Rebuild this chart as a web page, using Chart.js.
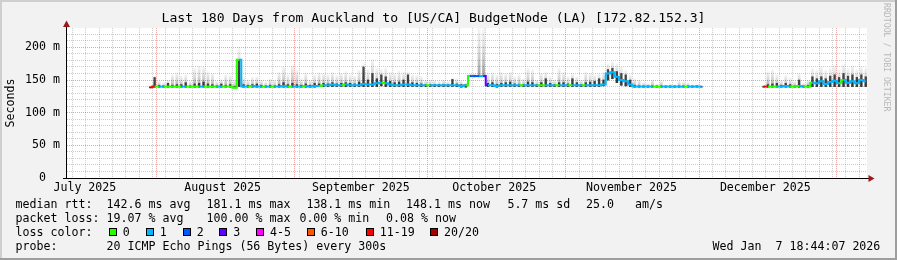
<!DOCTYPE html>
<html>
<head>
<meta charset="utf-8">
<script src="https://cdn.jsdelivr.net/npm/chart.js@4/dist/chart.umd.min.js"></script>
<style>
  html, body { margin: 0; padding: 0; background: #f2f2f2; }
  #wrap { position: relative; width: 897px; height: 260px; overflow: hidden; }
  #rtt { position: absolute; left: 0; top: 0; }
  .t { position: absolute; font: 11.62px "DejaVu Sans Mono", monospace; line-height: 14px; white-space: pre; color: #000; }
  .box { position: absolute; top: 228px; width: 8px; height: 8px; box-sizing: border-box; border: 1px solid #000; }
  #mark { position: absolute; left: 882px; top: 3px; writing-mode: vertical-rl; font: 8.2px "DejaVu Sans Mono", monospace; line-height: 10px; color: #b8b8b8; white-space: pre; }
</style>
</head>
<body>
<div id="wrap">
  <canvas id="rtt" width="897" height="260"></canvas>
  <div id="mark">RRDTOOL / TOBI OETIKER</div>

  <div class="t" style="left:15.5px;top:197px">median rtt:</div>
  <div class="t" style="left:106.6px;top:197px">142.6 ms avg</div>
  <div class="t" style="left:206.6px;top:197px">181.1 ms max</div>
  <div class="t" style="left:306.4px;top:197px">138.1 ms min</div>
  <div class="t" style="left:406px;top:197px">148.1 ms now</div>
  <div class="t" style="left:507.4px;top:197px">5.7 ms sd</div>
  <div class="t" style="left:586px;top:197px">25.0   am/s</div>

  <div class="t" style="left:15.5px;top:211px">packet loss:</div>
  <div class="t" style="left:106.6px;top:211px">19.07 % avg</div>
  <div class="t" style="left:206.6px;top:211px">100.00 % max</div>
  <div class="t" style="left:299.4px;top:211px">0.00 % min</div>
  <div class="t" style="left:386px;top:211px">0.08 % now</div>

  <div class="t" style="left:15.5px;top:225px">loss color:</div>
  <div id="lossLegend"></div>

  <div class="t" style="left:15.5px;top:239px">probe:</div>
  <div class="t" style="left:106.6px;top:239px">20 ICMP Echo Pings (56 Bytes) every 300s</div>
  <div class="t" style="left:712.6px;top:239px">Wed Jan  7 18:44:07 2026</div>
</div>

<script>
// x axis is "days since 1 July 2025"
const dayStart = 10.78;
const dayEnd = 190.78;
const firstDataDay = 29;

const monthStartDays = [31, 62, 92, 123, 153, 184];
const monthLabelDays = [14.8, 45.8, 76.9, 106.9, 137.8, 167.9];
const monthLabels = ["July 2025", "August 2025", "September 2025", "October 2025", "November 2025", "December 2025"];

const yTickValues = [0, 50, 100, 150, 200];
const yTickLabels = ["0  ", "50 m", "100 m", "150 m", "200 m"];

const lossLabels = ["0", "1", "2", "3", "4-5", "6-10", "11-19", "20/20"];
const lossColors = ["#26ff00", "#00b8ff", "#0059ff", "#5e00ff", "#ff00ff", "#ff5500", "#ff0000", "#a00000"];

// one value per day, from firstDataDay to day 190 (ms)
const medianRtt = [
  139,140,140,140,140,140,140,140,140,140,
  140,140,140,140,140,140,140,140,140,138,
  181,140,140,141,140,140,140,140,140,140,
  141,140,140,140,140,141,140,141,141,142,
  142,143,142,142,143,142,142,142,144,143,
  143,145,146,145,143,142,142,143,143,142,
  142,142,142,142,142,142,142,142,142,142,
  141,142,156,156,156,156,142,142,141,142,
  142,142,142,142,142,142,142,142,142,142,
  142,142,142,142,142,142,142,142,142,142,
  142,142,143,160,162,155,150,148,143,140,
  140,140,140,140,140,140,140,140,140,140,
  140,140,140,140,140,null,null,null,null,null,
  null,null,null,null,null,null,null,null,140,140,
  140,140,140,141,140,140,141,140,140,146,
  145,148,144,147,149,145,150,146,148,145,
  150,148
];
const lossIdx = [
  6,0,1,0,0,0,0,1,0,0,
  0,1,0,0,0,1,0,0,0,0,
  1,1,0,1,1,0,1,0,1,1,
  1,0,1,1,0,1,1,1,0,1,
  1,1,1,0,1,1,1,1,1,1,
  1,1,0,1,1,1,1,1,1,1,
  1,1,0,1,1,1,1,1,1,1,
  1,0,2,2,1,3,1,1,1,1,
  1,1,1,0,1,1,1,0,0,1,
  1,0,1,1,0,1,1,0,1,1,
  1,1,1,1,1,1,1,1,1,1,
  1,1,1,0,0,1,1,1,1,1,
  0,1,1,1,6,null,null,null,null,null,
  null,null,null,null,null,null,null,null,6,0,
  0,1,1,1,0,0,1,0,0,1,
  1,1,1,1,1,0,1,1,1,1,
  1,1
];
const minRtt = [
  138,139,139,139,139,139,139,139,139,139,
  139,139,139,139,139,139,139,139,139,138,
  140,139,139,139,139,139,139,139,139,139,
  139,139,139,139,139,139,139,139,140,140,
  140,140,140,140,140,140,140,140,140,140,
  140,140,141,140,140,140,140,140,140,140,
  140,140,140,140,140,140,140,140,140,140,
  139,139,155,155,155,155,140,140,139,140,
  140,140,140,140,140,140,140,140,140,140,
  140,140,140,140,140,140,140,140,140,140,
  140,140,141,150,152,146,142,141,140,139,
  139,139,139,139,139,139,139,139,139,139,
  139,139,139,139,139,null,null,null,null,null,
  null,null,null,null,null,null,null,null,139,139,
  139,139,139,139,139,139,139,139,139,140,
  140,140,140,140,140,140,140,140,140,140,
  140,140
];
const smokeTop = [
  140,156,148,146,150,158,161,156,158,148,
  168,171,170,163,160,148,151,158,157,150,
  200,153,150,154,155,150,147,152,149,162,
  170,158,173,165,152,161,150,158,161,160,
  158,162,157,160,163,158,156,165,175,166,
  182,168,166,168,162,160,164,162,163,158,
  157,155,150,150,149,148,150,148,153,152,
  148,146,158,158,229,229,160,162,158,162,
  160,162,155,158,152,168,166,150,160,162,
  155,150,168,162,155,160,155,150,162,160,
  158,160,162,175,178,175,170,165,158,152,
  150,146,145,150,144,149,143,144,143,148,
  147,146,143,142,141,null,null,null,null,null,
  null,null,null,null,null,null,null,null,141,163,
  166,158,150,157,153,148,160,145,150,168,
  165,170,165,168,172,166,174,168,172,166,
  170,168
];
const smokeCore = [
  139,154,142,141,145,142,143,143,146,141,
  144,145,147,144,143,141,144,142,143,140,
  181,143,142,143,144,142,141,142,141,143,
  146,143,145,143,142,144,142,145,144,145,
  144,146,144,145,146,145,144,147,170,150,
  160,152,158,155,148,146,147,150,158,146,
  145,144,143,143,143,143,143,143,151,144,
  143,143,157,157,157,157,145,146,143,145,
  146,147,144,143,143,147,146,143,146,152,
  145,143,146,146,144,152,146,143,146,147,
  148,152,150,166,168,163,160,158,150,142,
  141,141,141,141,141,141,141,141,141,141,
  141,141,141,141,140,null,null,null,null,null,
  null,null,null,null,null,null,null,null,140,143,
  144,145,142,145,143,141,150,141,142,155,
  152,155,152,156,158,154,160,156,158,154,
  158,155
];

const mono = "DejaVu Sans Mono";
const minorGrid = "rgba(128,128,128,0.4)";
const majorGrid = "rgba(230,40,40,0.45)";

// loss colour legend boxes
const lossBoxLeft = [108.7, 145.7, 182.7, 219.3, 256, 306.7, 365.7, 430];
const legendEl = document.getElementById("lossLegend");
lossLabels.forEach((lab, k) => {
  const b = document.createElement("div");
  b.className = "box";
  b.style.left = lossBoxLeft[k] + "px";
  b.style.background = lossColors[k];
  legendEl.appendChild(b);
  const t = document.createElement("div");
  t.className = "t";
  t.style.left = (lossBoxLeft[k] + 14) + "px";
  t.style.top = "225px";
  t.textContent = lab;
  legendEl.appendChild(t);
});

const medianPts = [];
const smokePts = [];
const corePts = [];
medianRtt.forEach((v, i) => {
  const x = firstDataDay + i + 0.5;
  medianPts.push({ x: x, y: v });
  if (v == null) return;
  smokePts.push({ x: x, y: [minRtt[i], smokeTop[i]] });
  corePts.push({ x: x, y: [minRtt[i], smokeCore[i]] });
});

// smoke fades from darker near the bottom to almost white at the top
function smokeFill(c) {
  if (c.type !== "data" || !c.chart.scales.y) return "rgba(0,0,0,0.2)";
  const ys = c.chart.scales.y;
  const y0 = ys.getPixelForValue(c.raw.y[0]);
  const y1 = ys.getPixelForValue(c.raw.y[1]);
  if (!(y0 - y1 > 2)) return "rgba(0,0,0,0.25)";
  const g = c.chart.ctx.createLinearGradient(0, y0, 0, y1);
  g.addColorStop(0, "rgba(0,0,0,0.38)");
  g.addColorStop(0.5, "rgba(0,0,0,0.16)");
  g.addColorStop(1, "rgba(0,0,0,0.04)");
  return g;
}

const frame = {
  id: "frame",
  beforeDraw(chart) {
    const { ctx, width, height, chartArea: a } = chart;
    ctx.save();
    ctx.fillStyle = "#f2f2f2";
    ctx.fillRect(0, 0, width, height);
    ctx.fillStyle = "#cfcfcf";
    ctx.fillRect(0, 0, width, 2);
    ctx.fillRect(0, 0, 2, height);
    ctx.fillStyle = "#9e9e9e";
    ctx.fillRect(0, height - 2, width, 2);
    ctx.fillRect(width - 2, 0, 2, height);
    ctx.fillStyle = "#fff";
    ctx.fillRect(a.left, a.top, a.right - a.left, a.bottom - a.top);
    ctx.restore();
  },
  afterDraw(chart) {
    const { ctx, chartArea: a } = chart;
    const ax = Math.round(a.left) - 0.5;
    const ay = Math.round(a.bottom) + 0.5;
    ctx.save();
    ctx.strokeStyle = "#000";
    ctx.lineWidth = 1;
    ctx.beginPath();
    ctx.moveTo(ax, ay);
    ctx.lineTo(ax, 26);
    ctx.moveTo(63, ay);
    ctx.lineTo(869, ay);
    ctx.stroke();
    // arrows
    ctx.fillStyle = "#9a1b1b";
    ctx.beginPath();
    ctx.moveTo(ax, 20.5);
    ctx.lineTo(ax - 3.5, 27);
    ctx.lineTo(ax + 3.5, 27);
    ctx.closePath();
    ctx.fill();
    ctx.beginPath();
    ctx.moveTo(874.5, ay);
    ctx.lineTo(868.5, ay - 3.5);
    ctx.lineTo(868.5, ay + 3.5);
    ctx.closePath();
    ctx.fill();
    ctx.restore();
  }
};

new Chart(document.getElementById("rtt"), {
  type: "bar",
  data: {
    datasets: [
      {
        type: "line",
        label: "median rtt",
        data: medianPts,
        order: 0,
        borderWidth: 2,
        borderColor: lossColors[0],
        pointRadius: 0,
        stepped: "middle",
        spanGaps: false,
        segment: {
          borderColor: c => lossColors[lossIdx[c.p0DataIndex]]
        }
      },
      {
        label: "smoke core",
        data: corePts,
        order: 1,
        grouped: false,
        backgroundColor: "rgba(20,20,20,0.75)",
        barThickness: 1.6
      },
      {
        label: "smoke",
        data: smokePts,
        order: 2,
        grouped: false,
        backgroundColor: smokeFill,
        barThickness: 2.2
      }
    ]
  },
  options: {
    responsive: false,
    animation: false,
    devicePixelRatio: 1,
    events: [],
    layout: { padding: { left: 0, right: 30, top: 0, bottom: 0 } },
    plugins: {
      legend: { display: false },
      tooltip: { enabled: false },
      title: {
        display: true,
        text: "Last 180 Days from Auckland to [US/CA] BudgetNode (LA) [172.82.152.3]",
        color: "#000",
        font: { family: mono, size: 13.1, weight: "normal", lineHeight: 1 },
        padding: { top: 12, bottom: 3 }
      }
    },
    scales: {
      x: {
        type: "linear",
        min: dayStart,
        max: dayEnd,
        offset: false,
        afterBuildTicks(scale) {
          const vals = [];
          for (let d = 3; d < dayEnd; d += 3) if (d > dayStart) vals.push(d);
          monthStartDays.forEach(d => vals.push(d));
          monthLabelDays.forEach(d => vals.push(d));
          const uniq = [...new Set(vals)].sort((p, q) => p - q);
          scale.ticks = uniq.map(v => ({ value: v }));
        },
        afterFit(scale) { scale.height = 82; },
        grid: {
          offset: false,
          drawTicks: false,
          lineWidth: 1,
          color: c => {
            const v = c.tick ? c.tick.value : null;
            if (monthLabelDays.includes(v)) return "rgba(0,0,0,0)";
            if (monthStartDays.includes(v)) return majorGrid;
            return minorGrid;
          }
        },
        border: { display: false, dash: [1, 1] },
        ticks: {
          autoSkip: false,
          maxRotation: 0,
          padding: 3,
          color: "#000",
          font: { family: mono, size: 11.62 },
          callback: v => {
            const k = monthLabelDays.indexOf(v);
            return k >= 0 ? monthLabels[k] : "";
          }
        }
      },
      y: {
        min: 0,
        max: 229.5,
        afterBuildTicks(scale) {
          const vals = [];
          for (let v = 0; v <= 220; v += 10) vals.push(v);
          scale.ticks = vals.map(v => ({ value: v }));
        },
        afterFit(scale) { scale.width = 67; },
        grid: {
          drawTicks: false,
          lineWidth: 1,
          color: c => {
            const v = c.tick ? c.tick.value : null;
            if (v === 0) return "rgba(0,0,0,0)";
            if (v % 50 === 0) return majorGrid;
            return minorGrid;
          }
        },
        border: { display: false, dash: [1, 1] },
        ticks: {
          autoSkip: false,
          padding: 7,
          color: "#000",
          font: { family: mono, size: 11.62 },
          callback: v => {
            const k = yTickValues.indexOf(v);
            return k >= 0 ? yTickLabels[k] : "";
          }
        },
        title: {
          display: true,
          text: "Seconds",
          color: "#000",
          font: { family: mono, size: 11.62 },
          padding: { top: 4, bottom: 0 }
        }
      }
    }
  },
  plugins: [frame]
});
</script>
</body>
</html>
